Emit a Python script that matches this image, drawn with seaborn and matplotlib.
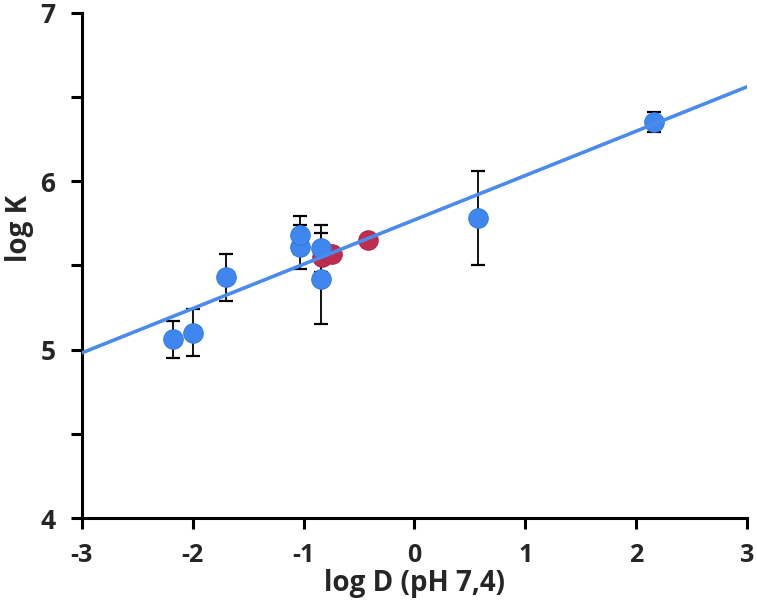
import numpy as np
import pandas as pd
import matplotlib
matplotlib.use('Agg')
import matplotlib.pyplot as plt
import seaborn as sns

# blue series (with error bars)
blue_x = [-2.18, -2.00, -1.70, -1.03, -1.03, -0.84, -0.84, 0.57, 2.16]
blue_y = [5.06, 5.10, 5.43, 5.61, 5.68, 5.60, 5.42, 5.78, 6.35]
blue_err = [0.11, 0.14, 0.14, 0.13, 0.11, 0.14, 0.27, 0.28, 0.06]

# red series (no error bars)
red_x = [-0.83, -0.74, -0.42]
red_y = [5.55, 5.57, 5.65]

# trend line
fit_x = [-3, 3]
fit_y = [4.98, 6.56]

x_ticks = [-3, -2, -1, 0, 1, 2, 3]
y_ticks = [4, 5, 6, 7]

sns.set_style('ticks')
plt.rcParams['font.family'] = ['Open Sans', 'Liberation Sans', 'DejaVu Sans']

blue = pd.DataFrame({'x': blue_x, 'y': blue_y})
red = pd.DataFrame({'x': red_x, 'y': red_y})
fit = pd.DataFrame({'x': fit_x, 'y': fit_y})

fig = plt.figure(figsize=(7.57, 6.02), dpi=100)
ax = fig.add_axes([0.108, 0.1395, 0.879, 0.8395])

ax.errorbar(blue_x, blue_y, yerr=blue_err, fmt='none', ecolor='black',
            elinewidth=1.3, capsize=5, capthick=1.6, zorder=2)
sns.scatterplot(data=red, x='x', y='y', color='#be2d50', s=200,
                edgecolor='#a82445', linewidth=0.6, ax=ax, zorder=3)
sns.scatterplot(data=blue, x='x', y='y', color='#3f86ef', s=200,
                edgecolor='#2f74df', linewidth=0.6, ax=ax, zorder=3)
sns.lineplot(data=fit, x='x', y='y', color='#4a8cee', linewidth=2.6,
             ax=ax, zorder=4)

ax.set_xlim(-3, 3)
ax.set_ylim(4, 7)
ax.set_xticks(x_ticks)
ax.set_yticks(y_ticks)
ax.set_yticks([4.5, 5.5, 6.5], minor=True)
ax.set_xticklabels([str(t) for t in x_ticks], fontsize=18, fontweight='bold')
ax.set_yticklabels([str(t) for t in y_ticks], fontsize=19, fontweight='bold')

sns.despine(ax=ax)
for s in ['left', 'bottom']:
    ax.spines[s].set_linewidth(2.2)
    ax.spines[s].set_color('black')
ax.tick_params(axis='both', which='both', direction='out', length=8,
               width=2.2, color='black')
ax.tick_params(axis='y', which='major', pad=11)
ax.tick_params(axis='x', which='major', pad=10)

ax.set_xlabel('log D (pH 7,4)', fontsize=20, fontweight='bold')
ax.set_ylabel('log K', fontsize=20, fontweight='bold')
ax.xaxis.set_label_coords(0.5, -0.1)
ax.yaxis.set_label_coords(-0.072, 0.573)

fig.savefig('out.png', dpi=100)
